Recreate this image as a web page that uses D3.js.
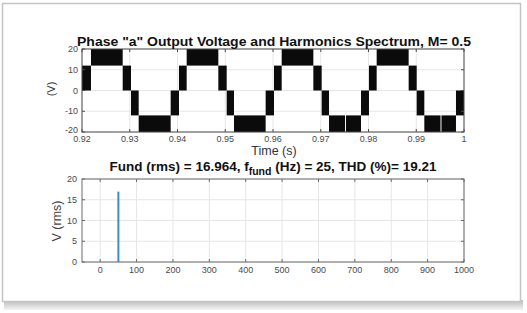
<!DOCTYPE html>
<html>
<head>
<meta charset="utf-8">
<script src="https://cdn.jsdelivr.net/npm/d3@7"></script>
<style>
  html, body { margin: 0; padding: 0; background: #ffffff; }
  svg { display: block; font-family: Arial, "Liberation Sans", sans-serif; }
</style>
</head>
<body>
<div id="chart-container"></div>
<script>
// switching bands of the phase voltage: band i runs from bandStart[i] to bandEnd[i]
// and toggles between bandLow[i] and bandLow[i] + levelStep
const levelStep = 12;
const bandStart = [0.9200, 0.92188, 0.92852, 0.93026, 0.93187, 0.93857,
                   0.94031, 0.94192, 0.94855, 0.95030, 0.95183, 0.95846,
                   0.96021, 0.96182, 0.96845, 0.97019, 0.97173, 0.97528, 0.97843,
                   0.98010, 0.98171, 0.98841, 0.99009, 0.99169, 0.99528, 0.99832];
const bandEnd   = [0.92188, 0.92852, 0.93026, 0.93187, 0.93857, 0.94031,
                   0.94192, 0.94855, 0.95030, 0.95183, 0.95846, 0.96021,
                   0.96182, 0.96845, 0.97019, 0.97173, 0.97508, 0.97843, 0.98010,
                   0.98171, 0.98841, 0.99009, 0.99169, 0.99508, 0.99832, 1.0000];
const bandLow   = [0, 12, 0, -12, -24, -12,
                   0, 12, 0, -12, -24, -12,
                   0, 12, 0, -12, -24, -24, -12,
                   0, 12, 0, -12, -24, -24, -12];

const timeTicks = [0.92, 0.93, 0.94, 0.95, 0.96, 0.97, 0.98, 0.99, 1];
const voltTicks = [-20, -10, 0, 10, 20];

// harmonic spectrum
const harmonicFreq = [50];
const harmonicRms = [16.964];
const freqTicks = [0, 100, 200, 300, 400, 500, 600, 700, 800, 900, 1000];
const rmsTicks = [0, 5, 10, 15, 20];

document.addEventListener('DOMContentLoaded', function(){
  drawFigure();
});

function drawFigure(){
  const svgWidth = 527, svgHeight = 313;

  const svg = d3.select("#chart-container").append("svg")
    .attr("width", svgWidth)
    .attr("height", svgHeight);

  // screenshot frame with a soft shadow
  const grad = svg.append("defs").append("linearGradient")
    .attr("id", "shadow").attr("x1", 0).attr("y1", 0).attr("x2", 0).attr("y2", 1);
  grad.append("stop").attr("offset", "0%").attr("stop-color", "#b9b9b9");
  grad.append("stop").attr("offset", "100%").attr("stop-color", "#f4f4f4");
  svg.append("rect")
    .attr("x", 4).attr("y", 300).attr("width", 519).attr("height", 10)
    .attr("fill", "url(#shadow)");
  svg.append("rect")
    .attr("x", 2.5).attr("y", 3.5).attr("width", 518).attr("height", 298)
    .attr("fill", "#ffffff")
    .attr("stroke", "#c4c4c4")
    .attr("stroke-width", 1.5);

  const gridColor = "#e6e6e6", boxColor = "#4d4d4d", tickText = "#4a4a4a";

  //----- top panel: phase voltage -----
  const top = {left: 82, right: 464, top: 49, bottom: 132};
  const x1 = d3.scaleLinear().domain([0.92, 1]).range([top.left, top.right]);
  const y1 = d3.scaleLinear().domain([-20, 20]).range([top.bottom, top.top]);

  const g1 = svg.append("g");

  g1.selectAll(".vgrid").data(timeTicks).enter().append("line")
    .attr("x1", d => x1(d)).attr("x2", d => x1(d))
    .attr("y1", top.top).attr("y2", top.bottom)
    .attr("stroke", gridColor);
  g1.selectAll(".hgrid").data(voltTicks).enter().append("line")
    .attr("x1", top.left).attr("x2", top.right)
    .attr("y1", d => y1(d)).attr("y2", d => y1(d))
    .attr("stroke", gridColor);

  // dense switching shows up as solid black blocks
  const clip = v => Math.max(-20, Math.min(20, v));
  g1.selectAll(".band").data(d3.range(bandStart.length)).enter().append("rect")
    .attr("x", i => x1(bandStart[i]))
    .attr("width", i => x1(bandEnd[i]) - x1(bandStart[i]))
    .attr("y", i => y1(clip(bandLow[i] + levelStep)))
    .attr("height", i => y1(clip(bandLow[i])) - y1(clip(bandLow[i] + levelStep)))
    .attr("fill", "#0b0b0b");

  drawBox(g1, top, x1, y1, timeTicks, voltTicks, boxColor);

  g1.selectAll(".xlab").data(timeTicks).enter().append("text")
    .attr("x", d => x1(d)).attr("y", top.bottom + 10)
    .attr("text-anchor", "middle")
    .attr("font-size", 9).attr("fill", tickText)
    .text(d => d === 1 ? "1" : d.toFixed(2));
  g1.selectAll(".ylab").data(voltTicks).enter().append("text")
    .attr("x", top.left - 4).attr("y", d => y1(d) + (d === -20 ? 1 : 3))
    .attr("text-anchor", "end")
    .attr("font-size", 9).attr("fill", tickText)
    .text(d => d);

  g1.append("text")
    .attr("x", 274).attr("y", 46)
    .attr("text-anchor", "middle")
    .attr("font-size", 13).attr("font-weight", "bold").attr("fill", "#111")
    .attr("textLength", 394).attr("lengthAdjust", "spacingAndGlyphs")
    .text('Phase "a" Output Voltage and Harmonics Spectrum, M= 0.5');
  g1.append("text")
    .attr("x", 274).attr("y", 155)
    .attr("text-anchor", "middle")
    .attr("font-size", 12.5).attr("fill", "#333")
    .text("Time (s)");
  g1.append("text")
    .attr("transform", "translate(55,89) rotate(-90)")
    .attr("text-anchor", "middle")
    .attr("font-size", 11).attr("fill", "#333")
    .text("(V)");

  //----- bottom panel: harmonic spectrum -----
  const bot = {left: 82, right: 464, top: 179, bottom: 262};
  const x2 = d3.scaleLinear().domain([-50, 1000]).range([bot.left, bot.right]);
  const y2 = d3.scaleLinear().domain([0, 20]).range([bot.bottom, bot.top]);

  const g2 = svg.append("g");

  g2.selectAll(".vgrid").data(freqTicks).enter().append("line")
    .attr("x1", d => x2(d)).attr("x2", d => x2(d))
    .attr("y1", bot.top).attr("y2", bot.bottom)
    .attr("stroke", gridColor);
  g2.selectAll(".hgrid").data(rmsTicks).enter().append("line")
    .attr("x1", bot.left).attr("x2", bot.right)
    .attr("y1", d => y2(d)).attr("y2", d => y2(d))
    .attr("stroke", gridColor);

  g2.selectAll(".bar").data(harmonicFreq).enter().append("rect")
    .attr("x", d => x2(d) - 1)
    .attr("width", 2)
    .attr("y", (d, i) => y2(harmonicRms[i]))
    .attr("height", (d, i) => y2(0) - y2(harmonicRms[i]))
    .attr("fill", "#3b8fc3");

  drawBox(g2, bot, x2, y2, freqTicks, rmsTicks, "#6a6a6a");

  g2.selectAll(".xlab").data(freqTicks).enter().append("text")
    .attr("x", d => x2(d)).attr("y", bot.bottom + 11)
    .attr("text-anchor", "middle")
    .attr("font-size", 9).attr("fill", tickText)
    .text(d => d);
  g2.selectAll(".ylab").data(rmsTicks).enter().append("text")
    .attr("x", bot.left - 5).attr("y", d => y2(d) + 3)
    .attr("text-anchor", "end")
    .attr("font-size", 9).attr("fill", tickText)
    .text(d => d);

  const t2 = g2.append("text")
    .attr("x", 273).attr("y", 171)
    .attr("text-anchor", "middle")
    .attr("font-size", 13.5).attr("font-weight", "bold").attr("fill", "#111");
  t2.append("tspan").text("Fund (rms) = 16.964, f");
  t2.append("tspan").attr("dy", 4).attr("font-size", 10.5).text("fund");
  t2.append("tspan").attr("dy", -4).text(" (Hz) = 25, THD (%)= 19.21");

  g2.append("text")
    .attr("transform", "translate(61,221) rotate(-90)")
    .attr("text-anchor", "middle")
    .attr("font-size", 12.5).attr("fill", "#444")
    .text("V (rms)");
}

// axes box with small inward ticks on all four sides
function drawBox(g, r, x, y, xt, yt, color){
  g.append("rect")
    .attr("x", r.left).attr("y", r.top)
    .attr("width", r.right - r.left).attr("height", r.bottom - r.top)
    .attr("fill", "none").attr("stroke", color).attr("stroke-width", 1);
  xt.forEach(function(d){
    g.append("line").attr("x1", x(d)).attr("x2", x(d))
      .attr("y1", r.bottom).attr("y2", r.bottom - 3).attr("stroke", color);
    g.append("line").attr("x1", x(d)).attr("x2", x(d))
      .attr("y1", r.top).attr("y2", r.top + 3).attr("stroke", color);
  });
  yt.forEach(function(d){
    g.append("line").attr("x1", r.left).attr("x2", r.left + 3)
      .attr("y1", y(d)).attr("y2", y(d)).attr("stroke", color);
    g.append("line").attr("x1", r.right).attr("x2", r.right - 3)
      .attr("y1", y(d)).attr("y2", y(d)).attr("stroke", color);
  });
}
</script>
</body>
</html>
